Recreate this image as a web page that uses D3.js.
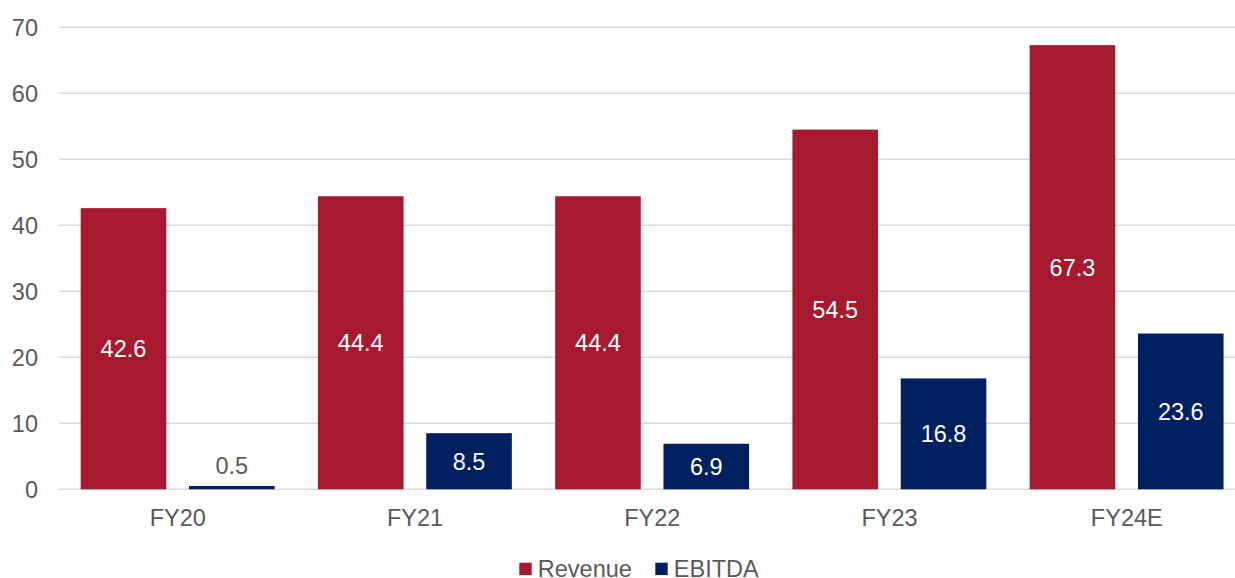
<!DOCTYPE html>
<html>
<head>
<meta charset="utf-8">
<script src="https://cdn.jsdelivr.net/npm/d3@7"></script>
<style>
  html, body { margin: 0; padding: 0; background: #fff; }
  svg { display: block; font-family: "Liberation Sans", Arial, sans-serif; }
</style>
</head>
<body>
<svg id="chart" width="1235" height="578"></svg>
<script>
const categories = ["FY20", "FY21", "FY22", "FY23", "FY24E"];
const seriesNames = ["Revenue", "EBITDA"];
const revenue = [42.6, 44.4, 44.4, 54.5, 67.3];
const ebitda = [0.5, 8.5, 6.9, 16.8, 23.6];
const yTicks = [0, 10, 20, 30, 40, 50, 60, 70];
const colors = ["#A6192E", "#002060"];

const svg = d3.select("#chart");
const W = 1235, H = 578;
const x0 = 59.2, x1 = 1245.4;
const yTop = 27.3, yBottom = 489.3;

const x = d3.scaleBand().domain(categories).range([x0, x1]).paddingInner(0).paddingOuter(0);
const barW = 85.6, gap = 22.7;
const xSub = d3.scaleBand().domain(seriesNames)
  .range([21.5, 21.5 + 2 * barW + gap])
  .paddingInner(gap / (barW + gap)).paddingOuter(0);
const y = d3.scaleLinear().domain([0, 70]).range([yBottom, yTop]);

const textColor = "#595959";
const fontSize = "23.5px";

// gridlines
svg.append("g").selectAll("line").data(yTicks).join("line")
  .attr("x1", x0).attr("x2", W)
  .attr("y1", d => y(d)).attr("y2", d => y(d))
  .attr("stroke", "#D9D9D9").attr("stroke-width", 1.5);

// y axis labels
const yAxis = d3.axisLeft(y).tickValues(yTicks).tickSize(0).tickPadding(0);
const gy = svg.append("g").attr("transform", "translate(38,0)").call(yAxis);
gy.select(".domain").remove();
gy.selectAll("text").attr("fill", textColor).style("font-size", fontSize)
  .style("font-family", "'Liberation Sans', Arial, sans-serif").attr("dy", "0.36em");

// x axis labels
const xAxis = d3.axisBottom(x).tickSize(0).tickPadding(0);
const gx = svg.append("g").attr("transform", `translate(0,${yBottom})`).call(xAxis);
gx.select(".domain").remove();
gx.selectAll("text").attr("fill", textColor).style("font-size", fontSize)
  .style("font-family", "'Liberation Sans', Arial, sans-serif").attr("dy", null).attr("y", 36.5);

// bars
const data = categories.map((c, i) => ({ cat: c, vals: [
  { s: "Revenue", v: revenue[i], c: colors[0] },
  { s: "EBITDA", v: ebitda[i], c: colors[1] }
]}));

const groups = svg.append("g").selectAll("g").data(data).join("g")
  .attr("transform", d => `translate(${x(d.cat)},0)`);

groups.selectAll("rect").data(d => d.vals).join("rect")
  .attr("x", d => xSub(d.s))
  .attr("width", xSub.bandwidth())
  .attr("y", d => y(d.v))
  .attr("height", d => y(0) - y(d.v))
  .attr("fill", d => d.c);

groups.selectAll("text").data(d => d.vals).join("text")
  .attr("x", d => xSub(d.s) + xSub.bandwidth() / 2)
  .attr("y", d => (y(0) - y(d.v)) < 40 ? y(d.v) - 20.3 : (y(0) + y(d.v)) / 2)
  .attr("dy", "0.36em")
  .attr("text-anchor", "middle")
  .attr("fill", d => (y(0) - y(d.v)) < 40 ? textColor : "#fff")
  .style("font-size", fontSize)
  .text(d => d.v.toFixed(1));

// legend
const legend = svg.append("g");
const legendItems = [
  { name: "Revenue", color: colors[0], x: 519.3 },
  { name: "EBITDA", color: colors[1], x: 655.3 }
];
const lg = legend.selectAll("g").data(legendItems).join("g")
  .attr("transform", d => `translate(${d.x},0)`);
lg.append("rect").attr("x", 0).attr("y", 562.7).attr("width", 12.4).attr("height", 12.4)
  .attr("fill", d => d.color);
lg.append("text").attr("x", 18.5).attr("y", 577).attr("fill", textColor)
  .style("font-size", fontSize).text(d => d.name);
</script>
</body>
</html>
